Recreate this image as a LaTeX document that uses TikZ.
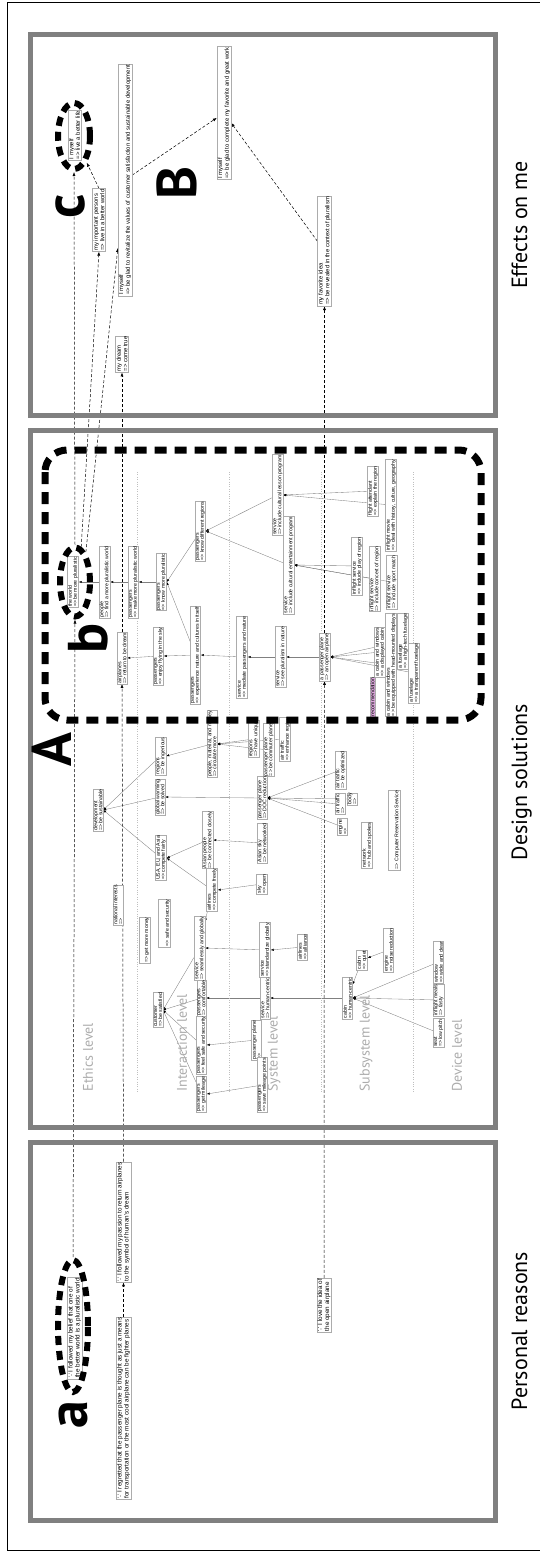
\documentclass[tikz,border=0pt]{standalone}
\usepackage{fontspec}
\setmainfont{Liberation Sans}
\newfontfamily\headfont{PT Sans}
\newfontfamily\symfont{DejaVu Sans}
\usetikzlibrary{arrows.meta, shapes.geometric, backgrounds}
\definecolor{recpink}{RGB}{221,168,221}
\newcommand{\bec}{{\symfont ∵}}

\begin{document}
\begin{tikzpicture}[x=1pt, y=-1pt,
    panel/.style={draw=gray, line width=5pt},
    paneltitle/.style={font=\headfont\fontsize{22}{24}\selectfont, rotate=90, anchor=base},
    lvl/.style={font=\headfont\fontsize{14}{16}\selectfont, text=gray!65, rotate=90, anchor=west},
    bigmark/.style={font=\headfont\bfseries\fontsize{56}{56}\selectfont, rotate=90, inner sep=0pt},
    dbox/.style={draw=gray!65, fill=white, rotate=90, align=left, inner sep=0.6pt,
                 line width=0.4pt, font=\fontsize{5.2}{5}\selectfont},
    ebox/.style={dbox, inner sep=0.9pt, font=\fontsize{5.9}{6.6}\selectfont},
    pbox/.style={dbox, inner sep=0.9pt, font=\fontsize{6.3}{6.8}\selectfont},
    link/.style={draw=gray, line width=0.35pt, -{Latex[length=3pt, width=2.2pt, color=black]}},
    jump/.style={line width=0.5pt, dash pattern=on 3pt off 2pt, -{Latex[length=4pt, width=3pt]}},
    ring/.style={ellipse, draw, line width=6pt, dash pattern=on 9pt off 6pt, inner sep=0pt},
    divider/.style={draw=gray!50, dotted, line width=0.4pt}
]
    \useasboundingbox (0,0) rectangle (540,1557);

    % frame and the three panels
    \draw[line width=0.8pt] (7.5,2.5) rectangle (560,1550);
    \draw[panel] (30.5,35) rectangle (495.5,415);
    \draw[panel] (30.5,430) rectangle (495.5,1127);
    \draw[panel] (30.5,1142) rectangle (495.5,1520);
    \node[paneltitle] (tEff) at (527,225) {Effects on me};
    \node[paneltitle] (tDes) at (527,782) {Design solutions};
    \node[paneltitle] (tPer) at (527,1331) {Personal reasons};

    % level columns
    \foreach \sx in {137,229,321,413}
        \draw[divider] (\sx,472) -- (\sx,1093);
    \node[lvl] (lEth) at (88,1095) {Ethics level};
    \node[lvl] (lInt) at (182,1095) {Interaction level};
    \node[lvl] (lSys) at (274,1095) {System level};
    \node[lvl] (lSub) at (366,1095) {Subsystem level};
    \node[lvl] (lDev) at (457,1095) {Device level};

    % Effects on me
    \node[ebox] (mlb) at (74.5,135) {I myself\\=> live a better life};
    \node[ebox] (mip) at (99,220) {my important persons\\=> live in a better world};
    \node[ebox] (mrv) at (125,180) {I myself\\=> be glad to revitalize the values of customer satisfaction and sustainable development};
    \node[ebox] (mcw) at (224,113) {I myself\\=> be glad to complete my favorite and great work};
    \node[ebox] (mdr) at (122,354) {my dream\\=> come true};
    \node[ebox] (mfi) at (324.5,251) {my favorite idea\\=> be revealed in the context of pluralism};
    \node[ring, minimum width=32, minimum height=66] (ec) at (74,136) {};
    \node[bigmark] (mc) at (70,206) {c};
    \node[bigmark] (mB) at (176.5,183) {B};

    % Design solutions: ethics level
    \node[dbox] (bw) at (73,582) {the world\\=> be more pluralistic};
    \node[dbox] (pp) at (104.5,582) {people\\=> find a more pluralistic world};
    \node[dbox] (pmk) at (133.5,582) {passengers\\=> make more pluralistic world};
    \node[dbox] (air) at (122,658) {airplanes\\=> return to be dream};
    \node[dbox] (dev) at (98,810) {development\\=> be sustainable};
    \node[dbox] (nat) at (118,905) {national interests\\=>};
    \node[ring, minimum width=30, minimum height=69] (eb) at (75,582) {};
    \node[bigmark] (mb) at (88,638) {b};
    \node[bigmark] (mA) at (51.5,750) {A};

    % interaction level
    \node[dbox] (pkn) at (161.5,582) {passengers\\=> know more pluralistic};
    \node[dbox] (pkd) at (200.5,531) {passengers\\=> know different regions};
    \node[dbox] (pex) at (195.5,655) {passengers\\=> experience nature and cultures in itself};
    \node[dbox] (pen) at (158.5,656) {passengers\\=> enjoy flying in the sky};
    \node[dbox] (rgi) at (160.5,756) {regions\\=> be ingenious};
    \node[dbox] (pmc) at (212,744) {people, material, and money\\=> circulate more};
    \node[dbox] (gws) at (160,797) {global warming\\=> be solved};
    \node[dbox] (usa) at (161,858) {USA, EU, and Asia\\=> compete fairly};
    \node[dbox] (apc) at (207.5,840) {Asian people\\=> be connected closely};
    \node[dbox] (alc) at (212,890) {airlines\\=> compete freely};
    \node[dbox] (mny) at (144.5,940) {\strut\\=> get more money};
    \node[dbox] (sfs) at (164.5,923) {\strut\\=> safe and security};
    \node[dbox] (ssg) at (199.5,948) {service\\=> seamlessly and globally};
    \node[dbox] (cus) at (158,1010) {customer\\=> be satisfied};
    \node[dbox] (pcf) at (201.5,998) {passengers\\=> comfortable};
    \node[dbox] (pfs) at (201.5,1045) {passengers\\=> feel safe and security};
    \node[dbox] (pml) at (201.5,1094) {passengers\\=> get mileage};

    % system level
    \node[dbox] (slp) at (277.5,495) {service\\=> include cultural lesson program};
    \node[dbox] (sce) at (288.5,565) {service\\=> include cultural entertainment program};
    \node[dbox] (smd) at (242,657) {service\\=> mediate passengers and nature};
    \node[dbox] (ssp) at (280.5,657) {service\\=> see pluralism in nature};
    \node[dbox] (rgu) at (253.5,739) {regions\\=> have unique};
    \node[dbox] (pcm) at (268.5,750) {passenger plane\\=> be commuter plane};
    \node[dbox] (ate) at (285,739) {air traffic\\=> enhance region};
    \node[dbox] (pdc) at (262,798) {passenger plane\\=> DOC reduction};
    \node[dbox] (ask) at (262,843) {Asian sky\\=> be networked};
    \node[dbox] (sko) at (262,884) {sky\\=> open};
    \node[dbox] (ssd) at (265,950) {service\\=> standardize globally};
    \node[dbox] (all) at (302.5,947) {airlines\\=> alliance};
    \node[dbox] (shc) at (265,998) {service\\=> human-centric};
    \node[dbox] (ppl) at (256.5,1040) {passenger plane\\=>};
    \node[dbox] (psm) at (262.5,1085) {passengers\\=> save mileage points};

    % subsystem level
    \node[dbox] (fla) at (373,491) {flight attendant\\=> explain the region};
    \node[dbox] (isp) at (357,566) {inflight service\\=> include play of region};
    \node[dbox] (isc) at (374.5,579) {inflight service\\=> include concert of region};
    \node[dbox] (aop) at (324.5,657) {a passenger plane\\=> an open airplane};
    \node[dbox] (cdc) at (380,652) {a cabin and windows\\=> a displayed cabin};
    \node[dbox, fill=recpink] (rec) at (372.5,697) {recommendation};
    \node[dbox] (ato) at (340.5,770) {air traffic\\=> be optimized};
    \node[dbox] (atr) at (340,804) {air traffic\\=>};
    \node[dbox] (bdy) at (352,799) {body\\=>};
    \node[dbox] (eng) at (342.5,827) {engine\\=>};
    \node[dbox] (net) at (367,845) {network\\=> hub and spokes};
    \node[dbox] (crs) at (394,830) {\strut\\=> Computer Reservation Service};
    \node[dbox] (cqt) at (362,960) {cabin\\=> quiet};
    \node[dbox] (enr) at (388.5,950) {engine\\=> noise reduction};
    \node[dbox] (chc) at (347.5,998) {cabin\\=> human-centric};

    % device level
    \node[dbox] (ifm) at (391,505) {inflight movie\\=> deal with history, culture, geography};
    \node[dbox] (iss) at (391.5,582) {inflight service\\=> include sport match};
    \node[dbox] (chm) at (391,665) {a cabin and windows\\=> be equipped with head-mounted displays};
    \node[dbox] (fht) at (403,641) {a fuselage\\=> a high-tech fuselage};
    \node[dbox] (ftr) at (414,673) {a fuselage\\=> a transparent fuselage};
    \node[dbox] (win) at (438.5,962) {window\\=> wide and clear};
    \node[dbox] (mls) at (438.5,1000) {inflight meals\\=> tasty};
    \node[dbox] (sea) at (438.5,1033) {seat\\=> low pitch};

    % region A
    \draw[line width=7pt, dash pattern=on 12pt off 8pt, rounded corners=22pt] (45,450) rectangle (481,720);

    % Personal reasons
    \node[pbox] (p1) at (123.5,1408) {\bec{} I regretted that the passenger plane is thought as just a means\\for transportation or the most cool airplane can be fighter planes};
    \node[pbox] (p2) at (123.5,1222) {\bec{} I followed my passion to return airplanes\\to the symbol of human's dream};
    \node[pbox] (p3) at (74.5,1328) {\bec{} I followed my belief that one of\\the better world is a pluralistic world};
    \node[pbox] (p4) at (324,1305) {\bec{} I love the idea of\\the open airplane};
    \node[ring, minimum width=30, minimum height=132] (ea) at (73,1326) {};
    \node[bigmark] (ma) at (73,1415) {a};

    \begin{scope}[on background layer]
        % links inside the design
        \draw[link] (pp) -- (bw.south);
        \draw[link] (pmk) -- (pp.south);
        \draw[link] (pkn) -- (pmk.south);
        \draw[link] (pkd) -- (pkn.south);
        \draw[link] (pex) -- (pkn.south);
        \draw[link] (pex) -- (pen.south);
        \draw[link] (pen) -- (air.south);
        \draw[link] (smd) -- (pex.south);
        \draw[link] (ssp) -- (smd.south);
        \draw[link] (aop) -- (ssp.south);
        \foreach \src in {cdc,chm,fht,ftr}
            \draw[link] (\src) -- (aop.south);
        \draw[link] (slp) -- (pkd.south);
        \draw[link] (sce) -- (pkd.south);
        \draw[link] (fla) -- (slp.south);
        \draw[link] (ifm) -- (slp.south);
        \foreach \src in {isp,isc,iss}
            \draw[link] (\src) -- (sce.south);
        \draw[link] (pmc) -- (rgi.south);
        \foreach \src in {rgu,pcm,ate}
            \draw[link] (\src) -- (pmc.south);
        \foreach \src in {rgi,gws,usa}
            \draw[link] (\src) -- (dev.south);
        \draw[link] (pdc) -- (gws.south);
        \foreach \src in {ato,atr,bdy,eng}
            \draw[link] (\src) -- (pdc.south);
        \draw[link] (apc) -- (usa.south);
        \draw[link] (alc) -- (usa.south);
        \draw[link] (ask) -- (apc.south);
        \draw[link] (sko) -- (alc.south);
        \draw[link] (alc) -- (ssg);
        \draw[link] (ssd) -- (ssg.south);
        \draw[link] (all) -- (ssd.south);
        \foreach \src in {ssg,pcf,pfs,pml}
            \draw[link] (\src) -- (cus.south);
        \draw[link] (shc) -- (pcf.south);
        \draw[link] (chc) -- (shc.south);
        \draw[link] (cqt) -- (chc);
        \draw[link] (enr) -- (cqt);
        \foreach \src in {win,mls,sea}
            \draw[link] (\src) -- (chc.south);
        \draw[link] (ppl) -- (pfs.south);
        \draw[link] (psm) -- (pml.south);

        % reasons -> design -> effects
        \draw[jump] (p1.east) -- (p2.west);
        \draw[jump] (ea.north) -- (eb.south);
        \draw[jump] (eb.north) -- (ec.south);
        \draw[jump] (eb.80) -- (mip.west);
        \draw[jump] (eb.70) -- (mrv);
        \draw[jump] (p2.east) -- (air.west);
        \draw[jump] (air.east) -- (mdr.west);
        \draw[jump] (p4.east) -- (aop.west);
        \draw[jump] (aop.east) -- (mfi.west);
        \draw[jump] (mip.east) -- (ec);
        \draw[jump] (mrv) -- (mcw);
        \draw[jump] (mfi) -- (mcw);
    \end{scope}
\end{tikzpicture}
\end{document}
